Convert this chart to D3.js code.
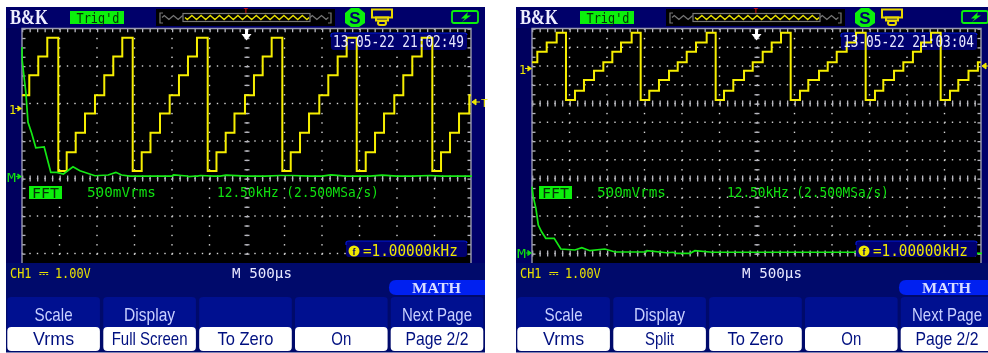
<!DOCTYPE html>
<html><head><meta charset="utf-8">
<script src="https://cdn.jsdelivr.net/npm/d3@7/dist/d3.min.js"></script>
<style>html,body{margin:0;padding:0;background:#fff;overflow:hidden}svg{display:block;filter:blur(.45px)}</style>
</head><body><svg id="c" width="988" height="353"></svg>
<script>
// channel 1 staircase: time (µs from screen left) and level (V)
const ch1VoltsA = [0.37,0.9,1.4,1.9,-1.65,-1.15,-0.63,-0.12,0.37,0.9,1.4,1.9,-1.65,-1.15,-0.63,-0.12,0.37,0.9,1.4,1.9,-1.65,-1.15,-0.63,-0.12,0.37,0.9,1.4,1.9,-1.65,-1.15,-0.63,-0.12,0.37,0.9,1.4,1.9,-1.65,-1.15,-0.63,-0.12,0.37,0.9,1.4,1.9,-1.65,-1.15,-0.63,-0.12,0.37];
const ch1TimesA = [0,97,217,337,484,596,716,840,973,1097,1217,1337,1476,1596,1713,1840,1969,2093,2213,2333,2476,2593,2716,2833,2973,3093,3209,3329,3471,3583,3707,3827,3964,4084,4209,4329,4463,4583,4707,4827,4964,5084,5204,5329,5471,5587,5707,5827,5964];
const ch1VoltsB = [0.36,0.92,1.42,1.94,-1.65,-1.16,-0.59,-0.09,0.36,0.92,1.42,1.94,-1.65,-1.16,-0.59,-0.09,0.36,0.92,1.42,1.94,-1.65,-1.16,-0.59,-0.09,0.36,0.92,1.42,1.94,-1.65,-1.16,-0.59,-0.09,0.36,0.92,1.42,1.94,-1.65,-1.16,-0.59,-0.09,0.36,0.92,1.42,1.94,-1.65,-1.16,-0.59,-0.09,0.36];
const ch1TimesB = [0,71,196,329,453,573,693,827,951,1071,1187,1329,1449,1564,1693,1827,1943,2063,2187,2329,2449,2560,2684,2827,2943,3076,3196,3320,3449,3573,3684,3827,3943,4063,4196,4320,4449,4573,4684,4827,4951,5079,5187,5320,5449,5573,5684,5820,5945];
// FFT spectrum: frequency (kHz from screen left) and magnitude (mVrms)
const fftFreqA = [0,0.05,0.7,1.3,2,3.2,4.6,7.4,9.6,11.6,13.8,17,19.3,24.3,28.7,31.3,33.2,36,50,50.5,55,55.5,58,58.5,59.5,64,66,68,75,81,86,90,96,100,103,108,112,116,120,125,130,136,140,150];
const fftMagA = [1733,1560,1330,1120,730,587,390,400,62,62,40,137,84,17,27,62,27,13,13,27,13,4,13,13,20,13,13,24,13,13,20,20,13,13,27,13,13,13,24,13,13,20,13,13];
const fftFreqB = [0,0.4,1.3,2.1,3.2,4.6,7.4,9.6,14.3,16.6,19.3,24.3,27.7,32,38,38.3,44.9,47,48,52.7,54.3,60,76,110,150];
const fftMagB = [1781,1515,1205,760,580,405,405,120,93,155,75,120,40,40,40,75,20,33,5,5,75,33,33,33,5];
const tickLabels = {scale:"500mVrms", span:"12.50kHz (2.500MSa/s)", ch1:"CH1 ⎓ 1.00V", time:"M 500µs", freq:"=1.00000kHz"};
const softKeysA = [["Scale","Vrms"],["Display","Full Screen"],["","To Zero"],["","On"],["Next Page","Page 2/2"]];
const softKeysB = [["Scale","Vrms"],["Display","Split"],["","To Zero"],["","On"],["Next Page","Page 2/2"]];
const keyTopWidths = {"Scale":38,"Display":51,"Next Page":70};
const keyBottomWidths = {"Vrms":41,"Full Screen":76,"Split":29,"To Zero":56,"On":20,"Page 2/2":63};
const ripple = [0,-2,0,2];

const svg = d3.select("#c");
const mono = "'DejaVu Sans Mono',monospace", sans = "'Liberation Sans',Arial,sans-serif", serif = "'Liberation Serif',serif";
const PL=22,PR=471,PT=28.5,PB=263;

function txt(g,x,y,s,o={}){
  const t=g.append("text").attr("x",0).attr("y",0).text(s)
    .attr("font-family",o.ff||mono).attr("font-size",o.fs||12).attr("fill",o.fill||"#fff")
    .attr("text-anchor",o.anchor||"start");
  if(o.fw)t.attr("font-weight",o.fw);
  const sx=o.w?o.w/t.node().getComputedTextLength():1;
  t.attr("transform",`translate(${x},${y}) scale(${sx},1)`);
  return t;
}
function panel(dx,cfg){
  const g=svg.append("g").attr("transform",`translate(${dx},0)`);
  g.append("rect").attr("x",6).attr("y",7).attr("width",479).attr("height",345.5).attr("fill","#000a6b");
  g.append("rect").attr("x",6).attr("y",7).attr("width",16).attr("height",256).attr("fill","#00005e");
  g.append("rect").attr("x",6).attr("y",7).attr("width",479).attr("height",21).attr("fill","#00006a");
  g.append("rect").attr("x",471).attr("y",28).attr("width",14).attr("height",235).attr("fill","#00006a");
  // header
  txt(g,10,23.5,"B&K",{ff:serif,fs:20,fw:700,fill:"#eef",w:38});
  g.append("rect").attr("x",70).attr("y",11).attr("width",54).attr("height",13).attr("fill","#0cf00c");
  txt(g,76.5,22.5,"Trig'd",{fs:14,fill:"#063006",w:43});
  g.append("rect").attr("x",156).attr("y",9).attr("width",179).attr("height",17).attr("fill","#000");
  g.append("rect").attr("x",183).attr("y",13.5).attr("width",127).attr("height",8).attr("fill","none").attr("stroke","#777").attr("stroke-width",1.2);
  const pts=d3.range(0,73).map(i=>[162+i*2.3,17.5+ripple[i%4]]);
  const ln0=d3.line();
  g.append("path").attr("d",ln0(pts.filter(p=>p[0]<=183))).attr("fill","none").attr("stroke","#777").attr("stroke-width",1.2);
  g.append("path").attr("d",ln0(pts.filter(p=>p[0]>=183&&p[0]<=310))).attr("fill","none").attr("stroke","#e8e000").attr("stroke-width",1.4);
  g.append("path").attr("d",ln0(d3.range(0,9).map(i=>[310+i*2.3,17.5+ripple[i%4]]))).attr("fill","none").attr("stroke","#777").attr("stroke-width",1.2);
  g.append("path").attr("d","M163,13H160V23H163M328,13H331V23H328").attr("fill","none").attr("stroke","#777").attr("stroke-width",1.2);
  g.append("text").attr("x",246).attr("y",13).attr("font-family",sans).attr("font-size",7).attr("font-weight",700).attr("fill","#e01010").attr("text-anchor","middle").text("T");
  // S icon
  g.append("path").attr("d","M351,8H359L365,13V23L359,27H351L345,23V13Z").attr("fill","#0cf00c");
  txt(g,355,24,"S",{ff:sans,fs:17,fw:700,fill:"#00006a",anchor:"middle"});
  // printer icon
  const pr=g.append("g").attr("fill","none").attr("stroke","#e8d800").attr("stroke-width",2);
  pr.append("rect").attr("x",372).attr("y",9.5).attr("width",20).attr("height",8);
  pr.append("rect").attr("x",376).attr("y",17.5).attr("width",12).attr("height",3);
  pr.append("rect").attr("x",378).attr("y",21).attr("width",8).attr("height",4).attr("rx",2);
  // battery
  g.append("rect").attr("x",452).attr("y",11).attr("width",26).attr("height",12).attr("rx",2).attr("fill","none").attr("stroke","#0cf00c").attr("stroke-width",1.8);
  g.append("path").attr("d","M468,12L461,18.5H465L462,22L471,15.5H467Z").attr("fill","#0cf00c");
  // screen
  g.append("rect").attr("x",PL).attr("y",PT).attr("width",PR-PL).attr("height",PB-PT).attr("fill","#000");
  const xGrid=d3.scaleLinear().domain([0,12]).range([PL,PL+450]);
  const yGrid=d3.scaleLinear().domain([0,6]).range([PT,PT+225]);
  const dots=g.append("g").attr("fill","#d8d8d8");
  const rows=cfg.split?d3.range(1,13).map(d=>d/2):d3.range(1,7);
  rows.forEach(r=>{ d3.range(0,60).forEach(i=>dots.append("rect").attr("x",PL+i*7.5-.2).attr("y",yGrid(r)-.7).attr("width",1.4).attr("height",1.4)); });
  d3.range(1,12).forEach(c=>{ d3.range(0,25).forEach(i=>dots.append("rect").attr("x",xGrid(c)-.7).attr("y",PT+i*9.375).attr("width",1.4).attr("height",1.4)); });
  const tk=g.append("g").attr("fill","#b8b8c0");
  const hTicks=(y,h)=>d3.range(0,60).forEach(i=>tk.append("rect").attr("x",PL+i*7.5).attr("y",y-h/2).attr("width",1.3).attr("height",h));
  const vTicks=(x,w)=>d3.range(0,25).forEach(i=>tk.append("rect").attr("x",x).attr("y",PT+i*9.375).attr("width",w).attr("height",1.3));
  hTicks(PT+2,3.5); hTicks(yGrid(4),6);
  if(cfg.split){hTicks(yGrid(2),6);hTicks(yGrid(6),6);}
  vTicks(PL,3.5); vTicks(PR-3.5,3.5); vTicks(xGrid(6)-2.5,5);
  g.append("path").attr("d",`M${PL},${PB}V${PT}H${PR}V${PB}`).attr("fill","none").attr("stroke","#9a9ab0").attr("stroke-width",1.4);

  // traces through scales
  const xT=d3.scaleLinear().domain([0,6000]).range([PL,PL+450]);
  const yV=d3.scaleLinear().domain([0,1]).range([cfg.zero,cfg.zero-cfg.vDiv]);
  const stairs=d3.line().curve(d3.curveStepAfter).x(d=>xT(d[0])).y(d=>yV(d[1]));
  const yData=d3.zip(cfg.times,cfg.volts).concat([[5985,cfg.volts[cfg.volts.length-1]]]);
  const xF=d3.scaleLinear().domain([0,150]).range([PL,PL+450]);
  const yM=d3.scaleLinear().domain([0,500]).range([cfg.fftZero,cfg.fftZero-cfg.vFft]);
  const fl=d3.line().x(d=>xF(d[0])).y(d=>yM(d[1]));
  // overlays below trace
  g.append("rect").attr("x",331).attr("y",33).attr("width",136).attr("height",17).attr("rx",3).attr("fill","#000070");
  g.append("path").attr("d","M331,37V35Q331,33 334,33H464Q467,33 467,35").attr("fill","none").attr("stroke","#0018d8").attr("stroke-width",1.2);
  g.append("path").attr("d",stairs(yData)).attr("fill","none").attr("stroke","#f6ee00").attr("stroke-width",2);
  g.append("path").attr("d",fl(d3.zip(cfg.freq,cfg.mag))).attr("fill","none").attr("stroke","#14e814").attr("stroke-width",1.7);
  txt(g,333,47,cfg.date,{fs:15.5,fill:"#e8e8ff",w:131});
  // white trigger arrow
  g.append("path").attr("d","M245,29H248V34H251.5L246.5,40.5L241.5,34H245Z").attr("fill","#fff");
  // markers
  txt(g,9,cfg.zero+4.5,"1",{fs:12,fill:"#f0e800"});
  g.append("path").attr("d",`M15,${cfg.zero-.5}H19M17.5,${cfg.zero-3}L21,${cfg.zero-.5}L17.5,${cfg.zero+2}`).attr("stroke","#f0e800").attr("fill","#f0e800").attr("stroke-width",1.2);
  txt(g,7,cfg.fftZero+4.5,"M",{fs:12,fill:"#10e010",w:9});
  g.append("path").attr("d",`M16,${cfg.fftZero-.5}H19M17.5,${cfg.fftZero-3}L21,${cfg.fftZero-.5}L17.5,${cfg.fftZero+2}`).attr("stroke","#10e010").attr("fill","#10e010").attr("stroke-width",1.2);
  g.append("path").attr("d",`M472,${cfg.trig}L476,${cfg.trig-3}V${cfg.trig+3}ZM476,${cfg.trig}H480`).attr("stroke","#f0e800").attr("fill","#f0e800").attr("stroke-width",1);
  if(cfg.showT)txt(g,481,cfg.trig+4.5,"T",{ff:sans,fs:11,fill:"#f0e800"});
  // labels on screen
  g.append("rect").attr("x",29).attr("y",186).attr("width",33).attr("height",13).attr("fill","#0cf00c");
  txt(g,32,197.5,"FFT",{fs:14,fill:"#063006",w:27});
  txt(g,87,197,tickLabels.scale,{fs:14,fill:"#10e010",w:69});
  txt(g,217,197,tickLabels.span,{fs:14,fill:"#10e010",w:162});
  g.append("rect").attr("x",346).attr("y",241).attr("width",121).attr("height",16).attr("rx",3).attr("fill","#000070");
  g.append("path").attr("d","M346,245V243Q346,241 349,241H464Q467,241 467,243").attr("fill","none").attr("stroke","#0018d8").attr("stroke-width",1.2);
  g.append("circle").attr("cx",354).attr("cy",251).attr("r",5.5).attr("fill","#f0e800");
  txt(g,354,254.5,"f",{ff:sans,fs:9,fw:700,fill:"#00006a",anchor:"middle"});
  txt(g,363,255.5,tickLabels.freq,{fs:15,fill:"#f0e800",w:95});
  // bottom text
  txt(g,10,277.5,tickLabels.ch1,{fs:14,fill:"#e8e000",w:81});
  txt(g,232,277.5,tickLabels.time,{fs:14,fill:"#e8e8ff",w:60});
  g.append("path").attr("d","M396,280H485V295H396Q389,295 389,287.5Q389,280 396,280Z").attr("fill","#0020f0");
  txt(g,412,293,"MATH",{ff:serif,fs:15,fw:700,fill:"#d8dcff",w:49});
  // soft keys
  const kx=[7.3,103.3,199.2,295,390.7], kw=92.6;
  cfg.keys.forEach((k,i)=>{
    g.append("path").attr("d",`M${kx[i]},330V300Q${kx[i]},297 ${kx[i]+4},297H${kx[i]+kw-4}Q${kx[i]+kw},297 ${kx[i]+kw},300V330Z`).attr("fill","#001090");
    g.append("rect").attr("x",kx[i]).attr("y",327).attr("width",kw).attr("height",24).attr("rx",4).attr("fill","#fff");
    if(k[0])txt(g,kx[i]+kw/2,321,k[0],{ff:sans,fs:18,fill:"#c8d0ff",anchor:"middle",w:keyTopWidths[k[0]]});
    txt(g,kx[i]+kw/2,345,k[1],{ff:sans,fs:18,fill:"#001080",anchor:"middle",w:keyBottomWidths[k[1]]});
  });
}
panel(0,{split:false,showT:true,zero:109,vDiv:37.5,fftZero:177,vFft:37.5,trig:102,times:ch1TimesA,volts:ch1VoltsA,freq:fftFreqA,mag:fftMagA,date:"13-05-22 21:02:49",keys:softKeysA});
panel(510,{split:true,showT:false,zero:69,vDiv:18.75,fftZero:253.5,vFft:18.75,trig:66,times:ch1TimesB,volts:ch1VoltsB,freq:fftFreqB,mag:fftMagB,date:"13-05-22 21:03:04",keys:softKeysB});
</script></body></html>
